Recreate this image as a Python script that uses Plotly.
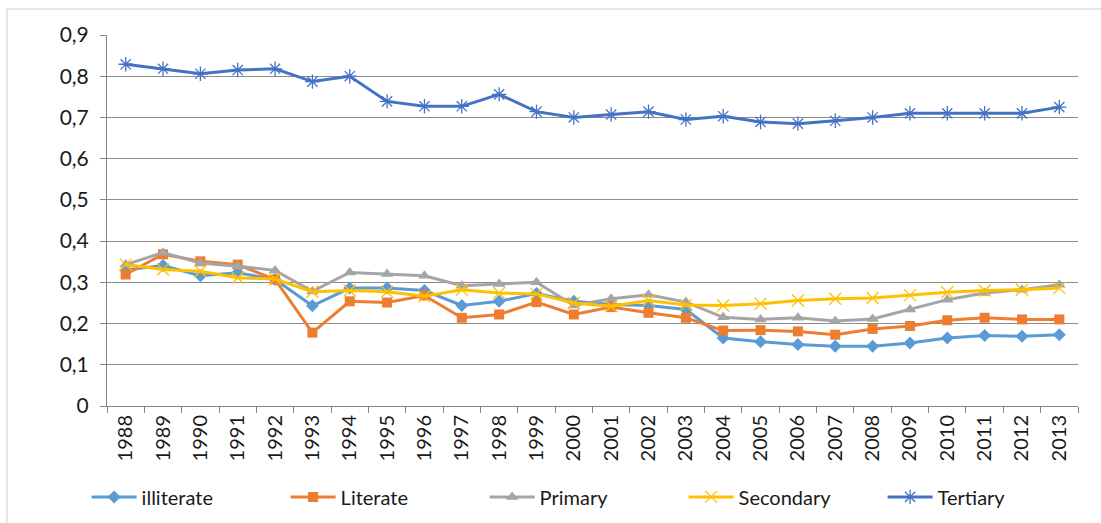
import plotly.graph_objects as go

years = [str(y) for y in range(1988, 2014)]

illiterate = [0.330, 0.341, 0.316, 0.323, 0.307, 0.243, 0.286, 0.286, 0.280, 0.244, 0.254, 0.273, 0.254,
              0.246, 0.244, 0.234, 0.165, 0.156, 0.149, 0.145, 0.145, 0.153, 0.165, 0.171, 0.169, 0.173]
literate = [0.319, 0.368, 0.351, 0.343, 0.307, 0.178, 0.254, 0.251, 0.268, 0.214, 0.222, 0.252, 0.222,
            0.240, 0.226, 0.214, 0.183, 0.184, 0.181, 0.173, 0.187, 0.194, 0.208, 0.214, 0.210, 0.210]
primary = [0.343, 0.372, 0.347, 0.339, 0.329, 0.278, 0.324, 0.320, 0.316, 0.292, 0.296, 0.300, 0.244,
           0.260, 0.270, 0.252, 0.215, 0.210, 0.214, 0.206, 0.211, 0.234, 0.258, 0.274, 0.282, 0.294]
secondary = [0.343, 0.331, 0.327, 0.311, 0.308, 0.277, 0.280, 0.277, 0.266, 0.282, 0.274, 0.272, 0.250,
             0.242, 0.256, 0.245, 0.244, 0.248, 0.256, 0.260, 0.262, 0.269, 0.276, 0.280, 0.282, 0.286]
tertiary = [0.829, 0.818, 0.806, 0.815, 0.818, 0.787, 0.800, 0.739, 0.727, 0.727, 0.756, 0.714, 0.700,
            0.707, 0.714, 0.695, 0.703, 0.689, 0.685, 0.692, 0.700, 0.710, 0.710, 0.710, 0.710, 0.725]

series = [
    ("illiterate", illiterate, "#5B9BD5", dict(symbol="diamond", size=10)),
    ("Literate", literate, "#ED7D31", dict(symbol="square", size=10)),
    ("Primary", primary, "#A5A5A5", dict(symbol="triangle-up", size=11)),
    ("Secondary", secondary, "#FFC000", dict(symbol="x-thin-open", size=12, line=dict(width=1.3, color="#FFC000"))),
    ("Tertiary", tertiary, "#4472C4", dict(symbol="asterisk-open", size=12, line=dict(width=1.3, color="#6E93D6"))),
]

fig = go.Figure()
for name, vals, color, mk in series:
    mk = dict(mk)
    mk.setdefault("color", color)
    fig.add_trace(go.Scatter(x=years, y=vals, name=name, mode="lines+markers",
                             line=dict(color=color, width=3), marker=mk))

font = "Lato, 'Open Sans', sans-serif"
fig.update_layout(
    width=1101, height=523,
    margin=dict(l=107, r=23, t=35, b=117, autoexpand=False),
    paper_bgcolor="white", plot_bgcolor="white",
    separators=", ",
    font=dict(family=font, size=19, color="#1a1a1a"),
    showlegend=True,
    legend=dict(orientation="h", x=-0.021, xanchor="left", y=-0.245, yanchor="middle",
                font=dict(size=20), entrywidth=139, entrywidthmode="pixels", itemwidth=45,
                bgcolor="rgba(0,0,0,0)"),
    xaxis=dict(type="category", range=[-0.5, 25.5], tickson="boundaries", ticks="outside",
               ticklen=6, tickcolor="#868686", showline=True, linecolor="#868686", linewidth=1,
               tickangle=-90, showgrid=False, tickfont=dict(size=20), automargin=False),
    yaxis=dict(range=[0, 0.9], dtick=0.1, tick0=0, ticks="outside", ticklen=6, tickcolor="#868686",
               showline=True, linecolor="#868686", linewidth=1, showgrid=True, gridcolor="#8C8C8C",
               gridwidth=1, zeroline=False, tickfont=dict(size=21), ticklabelstandoff=7,
               automargin=False),
    shapes=[dict(type="rect", xref="paper", yref="paper", x0=-0.103, x1=1.06, y0=-0.4, y1=1.070,
                 line=dict(color="#D0D0D0", width=1), fillcolor="rgba(0,0,0,0)", layer="below")],
)

fig.write_html("out.html", config={"displayModeBar": False},
               post_script="document.body.style.margin='0';document.body.style.overflow='hidden';")
